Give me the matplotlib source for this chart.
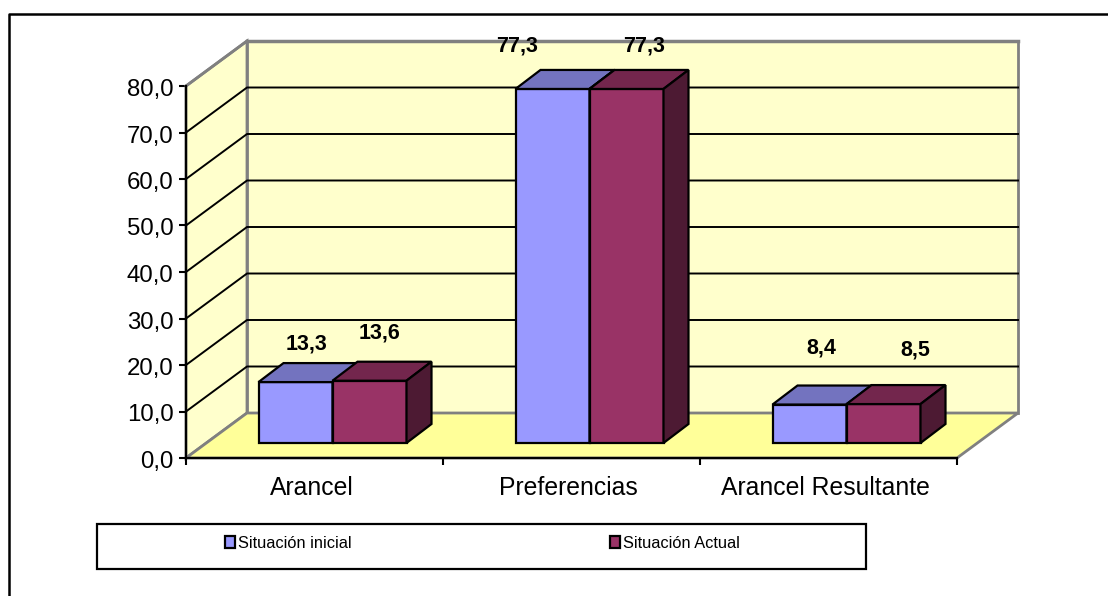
import matplotlib
matplotlib.use('Agg')
import matplotlib.pyplot as plt
from matplotlib.lines import Line2D
from matplotlib.patches import Polygon, Rectangle
from matplotlib.transforms import ScaledTranslation

# Datos
categorias = ['Arancel', 'Preferencias', 'Arancel Resultante']
inicial = [13.3, 77.3, 8.4]
actual = [13.6, 77.3, 8.5]
etiquetas = ['Situación inicial', 'Situación Actual']
yticks = [0, 10, 20, 30, 40, 50, 60, 70, 80]

W, H = 1108, 596
plt.rcParams['font.family'] = ['Liberation Sans', 'DejaVu Sans']

fig = plt.figure(figsize=(W / 100, H / 100), dpi=100)
ax = fig.add_axes([186 / W, (H - 458) / H, 771 / W, 372 / H])
ax.set_xlim(-0.5, 2.5)
ax.set_ylim(0, 80)

# pixeles -> unidades de datos
ux = 3 / 771
uy = 80 / 372

# Profundidad de paredes y barras
wall_dx, wall_dy = 61 * ux, 45 * uy
bar_dx, bar_dy = 18 * ux, 15 * uy
depth_dx, depth_dy = 25 * ux, 19 * uy
ancho = 74 * ux
escala = 0.985  # las barras quedan algo mas atras


def cara(puntos, color, lw=1.6, edge='black', z=3):
    ax.add_patch(Polygon(puntos, closed=True, facecolor=color, edgecolor=edge,
                         linewidth=lw, joinstyle='miter', clip_on=False, zorder=z))


# Paredes y piso
gris = '#808080'
cara([(-0.5, 0), (-0.5 + wall_dx, wall_dy), (-0.5 + wall_dx, 80 + wall_dy), (-0.5, 80)],
     '#FFFFCC', lw=2, edge=gris, z=1)
cara([(-0.5 + wall_dx, wall_dy), (2.5 + wall_dx, wall_dy), (2.5 + wall_dx, 80 + wall_dy),
      (-0.5 + wall_dx, 80 + wall_dy)], '#FFFFCC', lw=2, edge=gris, z=1)
cara([(-0.5, 0), (2.5, 0), (2.5 + wall_dx, wall_dy), (-0.5 + wall_dx, wall_dy)],
     '#FFFF99', lw=2, edge=gris, z=1)

# Lineas de division
for v in yticks[1:-1]:
    ax.plot([-0.5, -0.5 + wall_dx, 2.5 + wall_dx], [v, v + wall_dy, v + wall_dy],
            color='black', lw=1.4, clip_on=False, zorder=2)
ax.plot([-0.5, -0.5 + wall_dx], [80, 80 + wall_dy], color=gris, lw=2, clip_on=False, zorder=2)
ax.plot([-0.5 + wall_dx, 2.5 + wall_dx], [80 + wall_dy] * 2, color=gris, lw=2.5,
        clip_on=False, zorder=2)


# Barras
def barra(x0, valor, frente, arriba, lado, z):
    base = bar_dy
    top = base + valor * escala
    x1 = x0 + ancho
    ax.bar(x0, valor * escala, width=ancho, bottom=base, align='edge', color=frente,
           edgecolor='black', linewidth=1.6, clip_on=False, zorder=z)
    cara([(x0, top), (x1, top), (x1 + depth_dx, top + depth_dy), (x0 + depth_dx, top + depth_dy)],
         arriba, z=z)
    cara([(x1, base), (x1 + depth_dx, base + depth_dy), (x1 + depth_dx, top + depth_dy), (x1, top)],
         lado, z=z)


for i in range(len(categorias)):
    c = i + bar_dx
    barra(c - ancho, inicial[i], '#9999FF', '#7373BF', '#4D4D80', 3 + i)
    barra(c, actual[i], '#993366', '#73264D', '#4D1A33', 3.5 + i)

# Etiquetas de datos (desplazamiento en pixeles desde la barra)
desp_ini = [(11, 38), (-35, 43), (12, 57)]
desp_act = [(10, 48), (18, 43), (32, 54)]
for i in range(len(categorias)):
    c = i + bar_dx
    for serie, desp, xc in ((inicial, desp_ini, c - ancho / 2), (actual, desp_act, c + ancho / 2)):
        ax.annotate(f'{serie[i]:.1f}'.replace('.', ','),
                    xy=(xc, bar_dy + serie[i] * escala), xytext=desp[i],
                    textcoords='offset pixels', ha='center', va='center',
                    fontsize=15.5, fontweight='bold', color='black',
                    annotation_clip=False, zorder=10)

# Ejes
for s in ('top', 'right'):
    ax.spines[s].set_visible(False)
for s in ('left', 'bottom'):
    ax.spines[s].set_linewidth(1.6)
    ax.spines[s].set_zorder(8)
ax.patch.set_visible(False)
ax.set_yticks(yticks)
ax.set_yticklabels([f'{v:.1f}'.replace('.', ',') for v in yticks], fontsize=17.3)
ax.set_xticks([-0.5, 0.5, 1.5, 2.5])
ax.set_xticklabels([])
ax.set_xticks(range(len(categorias)), categorias, minor=True, fontsize=17.8)
ax.tick_params(axis='x', which='major', length=5, width=1.5)
ax.tick_params(axis='x', which='minor', length=0, pad=13)
ax.tick_params(axis='y', length=5, width=1.5, pad=4)

# Los textos del eje quedan un poco corridos respecto de las marcas
corrimiento_x = ScaledTranslation(-3 / 100, 0, fig.dpi_scale_trans)
corrimiento_y = ScaledTranslation(0, -1.5 / 100, fig.dpi_scale_trans)
for t in ax.get_xticklabels(minor=True):
    t.set_transform(t.get_transform() + corrimiento_x)
for t in ax.get_yticklabels():
    t.set_transform(t.get_transform() + corrimiento_y)

# Leyenda
fig.add_artist(Rectangle((97 / W, (H - 569) / H), 769 / W, 45 / H, transform=fig.transFigure,
                         facecolor='white', edgecolor='black', linewidth=1.6))
handles = [Rectangle((0, 0), 1, 1, facecolor='#9999FF', edgecolor='black', linewidth=1.6),
           Rectangle((0, 0), 1, 1, facecolor='#993366', edgecolor='black', linewidth=1.6)]
fig.legend(handles, etiquetas, loc='center left', bbox_to_anchor=(225 / W, (H - 543) / H),
           ncol=2, frameon=False, fontsize=11.8, handlelength=0.62, handleheight=0.7,
           handletextpad=0.15, columnspacing=15.8, borderpad=0, borderaxespad=0)

# Marco exterior: solo arriba e izquierda, el resto queda fuera de la imagen
fig.add_artist(Line2D([9 / W, 9 / W, 1], [0, (H - 14) / H, (H - 14) / H],
                      transform=fig.transFigure, color='black', lw=1.8))

fig.savefig('out.png', dpi=100)
